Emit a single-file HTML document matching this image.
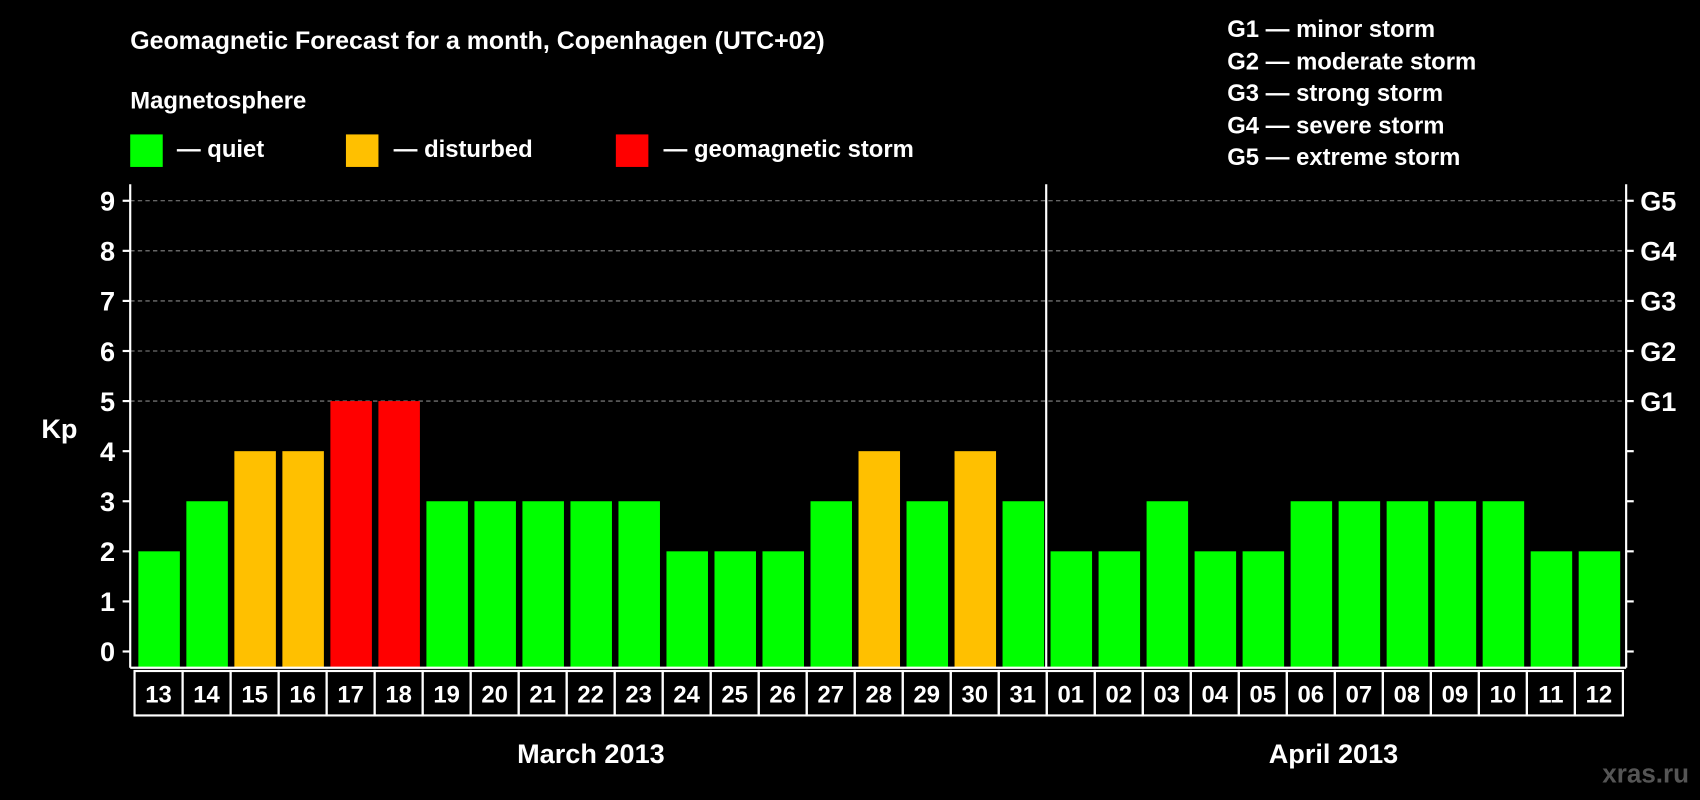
<!DOCTYPE html>
<html><head><meta charset="utf-8"><style>
html,body{margin:0;padding:0;background:#000;}
svg{display:block;font-family:"Liberation Sans",Arial,sans-serif;font-weight:bold;}
</style></head><body>
<svg id="chart" width="1700" height="800" viewBox="0 0 1568 738" xmlns="http://www.w3.org/2000/svg">
<rect width="1568" height="738" fill="#000"/>
<text x="120" y="45" fill="#fff" font-size="23">Geomagnetic Forecast for a month, Copenhagen (UTC+02)</text>
<text x="120" y="100" fill="#fff" font-size="22">Magnetosphere</text>
<rect x="120" y="124" width="30" height="30" fill="#00ff00"/>
<text x="163" y="145" fill="#fff" font-size="22">— quiet</text>
<rect x="319" y="124" width="30" height="30" fill="#ffc000"/>
<text x="363" y="145" fill="#fff" font-size="22">— disturbed</text>
<rect x="568" y="124" width="30" height="30" fill="#ff0000"/>
<text x="612" y="145" fill="#fff" font-size="22">— geomagnetic storm</text>
<g fill="#fff" font-size="22">
<text x="1132" y="34">G1 — minor storm</text>
<text x="1132" y="64">G2 — moderate storm</text>
<text x="1132" y="93">G3 — strong storm</text>
<text x="1132" y="123">G4 — severe storm</text>
<text x="1132" y="152">G5 — extreme storm</text>
</g>
<text x="38" y="404" fill="#fff" font-size="25">Kp</text>
<text x="545" y="704" fill="#fff" font-size="25" text-anchor="middle">March 2013</text>
<text x="1230" y="704" fill="#fff" font-size="25" text-anchor="middle">April 2013</text>
<text x="1558" y="722" fill="#555" font-size="24" text-anchor="end">xras.ru</text>
<g id="grid"></g><g id="bars"></g><g id="axes"></g>
</svg>
<script>
const days=["13","14","15","16","17","18","19","20","21","22","23","24","25","26","27","28","29","30","31","01","02","03","04","05","06","07","08","09","10","11","12"];
const kpValues=[2,3,4,4,5,5,3,3,3,3,3,2,2,2,3,4,3,4,3,2,2,3,2,2,3,3,3,3,3,2,2];
const yTicks=[0,1,2,3,4,5,6,7,8,9];
const gLabels=["G1","G2","G3","G4","G5"];
const NS="http://www.w3.org/2000/svg";
const L=120,R=1500,B=616,slot0=124,slotW=(1497-124)/31;
const y=v=>601-v*46.2;
const x=i=>slot0+i*slotW;
function mk(tag,attrs,parent,text){const e=document.createElementNS(NS,tag);for(const k in attrs)e.setAttribute(k,attrs[k]);if(text!==undefined)e.textContent=text;parent.appendChild(e);return e;}
const grid=document.getElementById('grid'),bars=document.getElementById('bars'),axes=document.getElementById('axes');
yTicks.forEach(t=>{
  if(t>=5){const g=mk('line',{x1:L,x2:R,y1:y(t),y2:y(t),stroke:'#888','stroke-dasharray':'4,3','stroke-width':1},grid);
  
  }
  const tk=mk('line',{x1:L-7,x2:L,y1:y(t),y2:y(t),stroke:'#fff','stroke-width':2},axes);
  
  
  const tr=mk('line',{x1:R,x2:R+7,y1:y(t),y2:y(t),stroke:'#fff','stroke-width':2},axes);
  
  
  const lb=mk('text',{x:L-14,y:y(t)+9,fill:'#fff','font-size':25,'text-anchor':'end'},axes,String(t));
  
  
});
gLabels.forEach((g,i)=>{
  const lb=mk('text',{x:R+13,y:y(5+i)+9,fill:'#fff','font-size':25},axes,g);
  
  
});
kpValues.forEach((v,i)=>{
  const c=v>=5?'#ff0000':(v>=4?'#ffc000':'#00ff00');
  const r=mk('rect',{x:x(i)+3.5,y:y(v),width:slotW-6,height:B-y(v),fill:c},bars);
  
  
  const cell=mk('rect',{x:x(i),y:B+3,width:slotW,height:41,fill:'none',stroke:'#fff','stroke-width':2},axes);
  
  
  const t=mk('text',{x:x(i)+slotW/2,y:B+32,fill:'#fff','font-size':22,'text-anchor':'middle'},axes,days[i]);
  
  
});
[[L,170,L,B],[R,170,R,B],[L,B,R,B],[965,170,965,B]].forEach((p,i)=>{
  const l=mk('line',{x1:p[0],y1:p[1],x2:p[2],y2:p[3],stroke:'#fff','stroke-width':2},axes);
  
  
});
</script>
</body></html>
